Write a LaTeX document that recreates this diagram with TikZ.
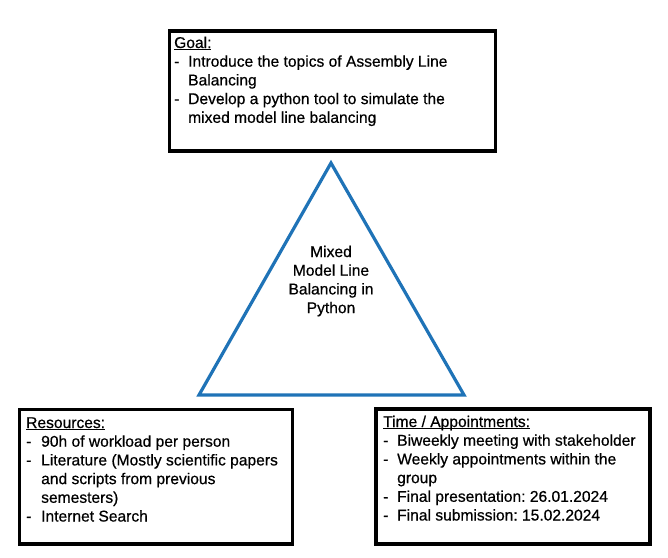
\documentclass[tikz,border=0pt]{standalone}
\usepackage{fontspec}
\setmainfont{Liberation Sans}[FakeBold=0.6]
\usepackage{array}
\definecolor{triblue}{RGB}{31,115,183}
\newcommand{\ulx}[1]{\setbox0\hbox{#1}\rlap{\rule[-2.3pt]{\wd0}{1.2pt}}\box0}
\frenchspacing
\tikzset{
  infobox/.style={draw=black, line width=3.4pt, inner sep=0pt, outer sep=0pt, anchor=north west},
  infotext/.style={anchor=base west, inner sep=0pt, font=\fontsize{15.6}{18.7}\selectfont\frenchspacing},
  tritext/.style={anchor=base, inner sep=0pt, font=\fontsize{15.6}{18.7}\selectfont},
  triline/.style={draw=triblue, line width=3.2pt},
}
\begin{document}
\begin{tikzpicture}[x=1pt,y=-1pt]
\useasboundingbox (0,0) rectangle (668,557);
% boxes
\node[infobox, minimum width=326pt, minimum height=120pt] (goalbox) at (169.5,31) {};
\node[infobox, minimum width=273pt, minimum height=134.5pt] (resbox) at (19.7,409.5) {};
\node[infobox, minimum width=274pt, minimum height=135pt] (timebox) at (376,409) {};
% texts
\node[infotext] (goaltext) at (174,48) {\begin{tabular}[t]{@{}p{14pt}@{}l@{}}
\multicolumn{2}{@{}l@{}}{\ulx{Goal:}}\\
-& Introduce the topics of Assembly Line\\
 & Balancing\\
-& Develop a python tool to simulate the\\
 & mixed model line balancing
\end{tabular}};
\node[infotext] (restext) at (26,428) {\begin{tabular}[t]{@{}p{15pt}@{}l@{}}
\multicolumn{2}{@{}l@{}}{\ulx{Resources:}}\\
-& 90h of workload per person\\
-& Literature (Mostly scientific papers\\
 & and scripts from previous\\
 & semesters)\\
-& Internet Search
\end{tabular}};
\node[infotext] (timetext) at (383,427) {\begin{tabular}[t]{@{}p{14pt}@{}l@{}}
\multicolumn{2}{@{}l@{}}{\ulx{Time / Appointments:}}\\
-& Biweekly meeting with stakeholder\\
-& Weekly appointments within the\\
 & group\\
-& Final presentation: 26.01.2024\\
-& Final submission: 15.02.2024
\end{tabular}};
% triangle
\coordinate (apex) at (331,163);
\coordinate (bl) at (199,395);
\coordinate (br) at (464,395);
\draw[triline] (apex) -- (bl) -- (br) -- cycle;
\node[tritext] (trilabel) at (331,257) {\begin{tabular}[t]{@{}c@{}}Mixed\\Model Line\\Balancing in\\Python\end{tabular}};
\end{tikzpicture}
\end{document}
